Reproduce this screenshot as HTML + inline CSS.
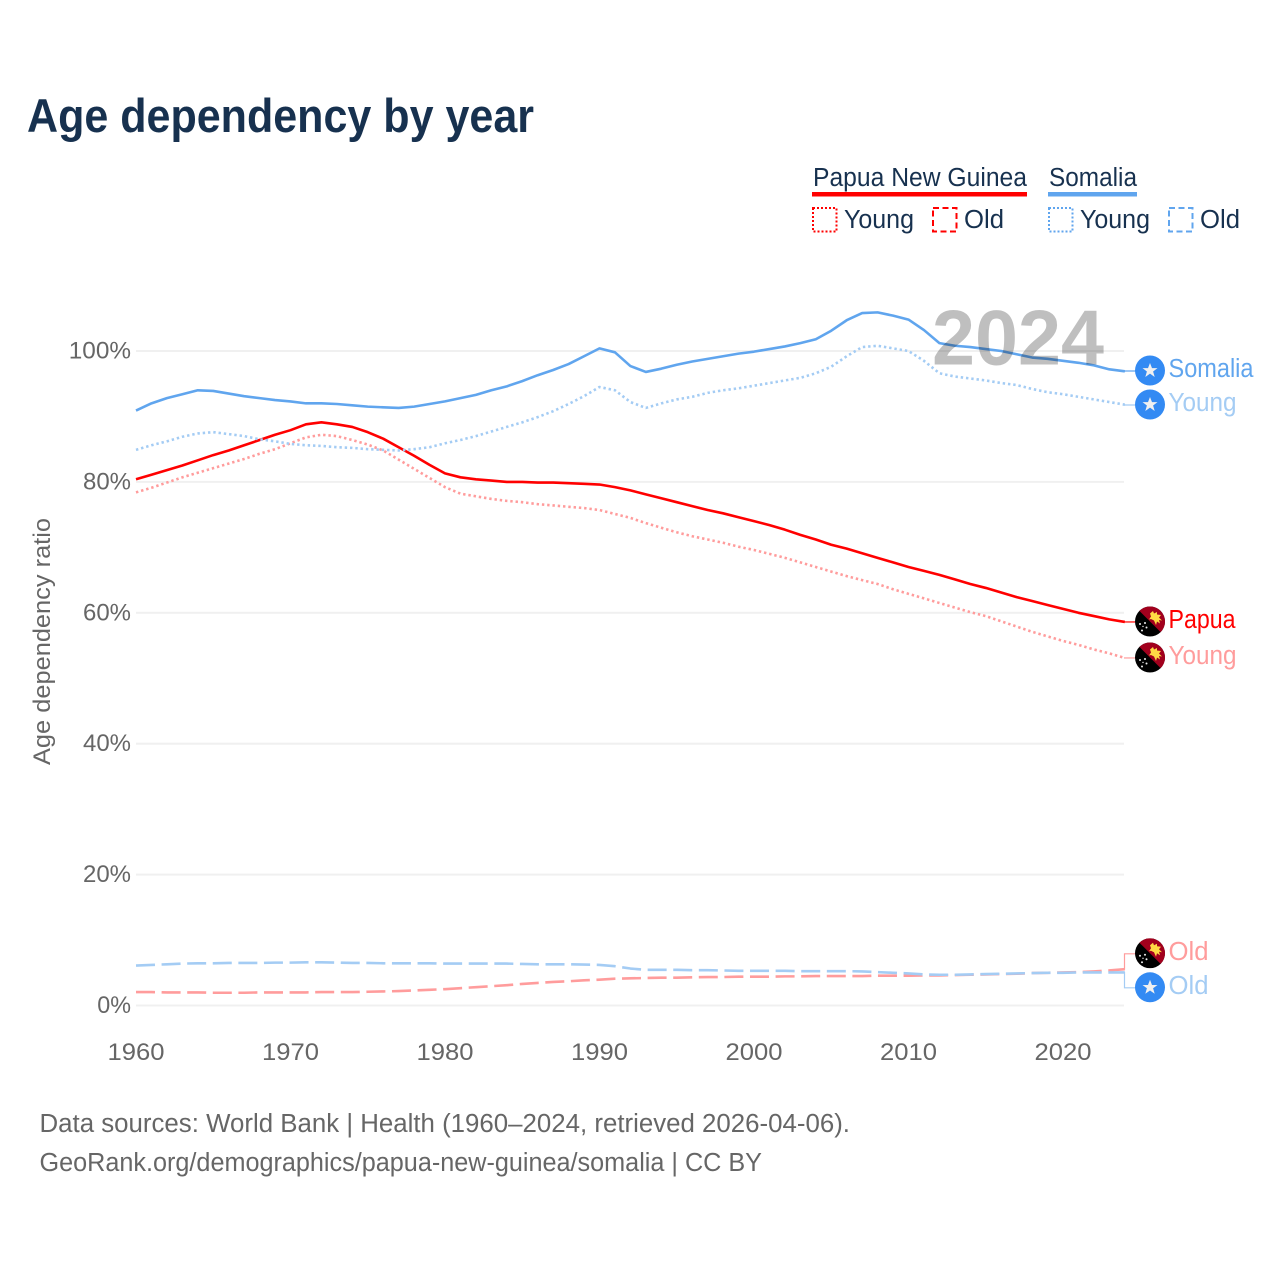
<!DOCTYPE html>
<html lang="en">
<head>
<meta charset="utf-8">
<title>Age dependency by year</title>
<style>
html,body{margin:0;padding:0;background:#fff;}
svg{display:block;font-family:"Liberation Sans",sans-serif;}
</style>
</head>
<body>
<svg id="chart" xmlns="http://www.w3.org/2000/svg" width="1280" height="1280" viewBox="0 0 1280 1280">
<defs>
<clipPath id="flag-clip"><circle cx="0" cy="0" r="15"/></clipPath>
<g id="flag-png">
<g clip-path="url(#flag-clip)">
<rect x="-15" y="-15" width="30" height="30" fill="#000"/>
<path d="M-15 -15H15V15Z" fill="#a2001d"/>
<path d="M0 -8L3 -10.5L4 -8L7 -9.5L7 -7L11 -6.5L9 -4L12 -1L9 -1.5L10 2L7 0L6 3.5L4 -1L1 -2.5L-1 -2L1 -5Z" fill="#ffda44"/>
<g fill="#eee"><circle cx="-10" cy="2.5" r="1"/><circle cx="-5" cy="1.5" r="1"/><circle cx="-3.5" cy="6" r="1"/><circle cx="-8" cy="9" r="1"/><circle cx="-7" cy="5" r="0.7"/></g>
</g>
</g>
<g id="flag-som">
<circle r="15" fill="#338af3"/>
<path d="M0 -7.5L2 -2.3L7.5 -2.3L3.1 1L4.7 6.5L0 3.2L-4.7 6.5L-3.1 1L-7.5 -2.3L-2 -2.3Z" fill="#f0f0f0"/>
</g>
</defs>

<text x="27" y="132" font-size="47" font-weight="700" fill="#17314f" textLength="507" lengthAdjust="spacingAndGlyphs">Age dependency by year</text>

<g font-size="25.5" fill="#17314f">
<g>
<text x="813" y="186" textLength="214" lengthAdjust="spacingAndGlyphs">Papua New Guinea</text>
<rect x="812" y="192" width="215" height="4.5" fill="#ff0000"/>
<rect x="813" y="208" width="23.5" height="23.5" fill="none" stroke="#ff0000" stroke-width="2" stroke-dasharray="2 2"/>
<text x="844" y="228" textLength="70" lengthAdjust="spacingAndGlyphs">Young</text>
<rect x="933" y="208" width="23.5" height="23.5" fill="none" stroke="#ff0000" stroke-width="2" stroke-dasharray="6 3.5"/>
<text x="964" y="228" textLength="40" lengthAdjust="spacingAndGlyphs">Old</text>
</g>
<g>
<text x="1049" y="186" textLength="88" lengthAdjust="spacingAndGlyphs">Somalia</text>
<rect x="1048" y="192" width="89" height="4.5" fill="#60a5ee"/>
<rect x="1049" y="208" width="23.5" height="23.5" fill="none" stroke="#60a5ee" stroke-width="2" stroke-dasharray="2 2"/>
<text x="1080" y="228" textLength="70" lengthAdjust="spacingAndGlyphs">Young</text>
<rect x="1169" y="208" width="23.5" height="23.5" fill="none" stroke="#60a5ee" stroke-width="2" stroke-dasharray="6 3.5"/>
<text x="1200" y="228" textLength="40" lengthAdjust="spacingAndGlyphs">Old</text>
</g>
</g>

<g id="grid"></g>
<g id="y-axis"></g>
<g id="x-axis"></g>
<text transform="translate(50,641.5) rotate(-90)" text-anchor="middle" font-size="24.5" fill="#666" textLength="247" lengthAdjust="spacingAndGlyphs">Age dependency ratio</text>
<g id="series"></g>
<text x="932" y="364.5" font-size="78" font-weight="700" fill="#000" fill-opacity="0.25" textLength="172" lengthAdjust="spacingAndGlyphs">2024</text>
<g id="end-labels"></g>

<g font-size="25.5" fill="#666">
<text x="39.5" y="1132" textLength="810.5" lengthAdjust="spacingAndGlyphs">Data sources: World Bank | Health (1960–2024, retrieved 2026-04-06).</text>
<text x="39.5" y="1171" textLength="722.5" lengthAdjust="spacingAndGlyphs">GeoRank.org/demographics/papua-new-guinea/somalia | CC BY</text>
</g>
</svg>

<script>
const firstYear = 1960;
const xTicks = [1960, 1970, 1980, 1990, 2000, 2010, 2020];
const yTicks = [0, 20, 40, 60, 80, 100];

const pngTotal = [
80.4,81.1,81.8,82.5,83.3,84.1,84.8,85.6,86.4,87.2,
87.9,88.8,89.1,88.8,88.4,87.6,86.6,85.3,84.0,82.6,
81.3,80.7,80.4,80.2,80.0,80.0,79.9,79.9,79.8,79.7,
79.6,79.2,78.7,78.1,77.5,76.9,76.3,75.7,75.2,74.6,
74.0,73.4,72.7,71.9,71.2,70.4,69.8,69.1,68.4,67.7,
67.0,66.4,65.8,65.1,64.4,63.8,63.1,62.4,61.8,61.2,
60.6,60.0,59.5,59.0,58.6];
const pngYoung = [
78.4,79.1,79.9,80.7,81.4,82.1,82.8,83.5,84.3,85.0,
85.9,86.8,87.2,87.0,86.4,85.7,84.8,83.4,82.0,80.6,
79.2,78.2,77.8,77.4,77.1,76.9,76.6,76.4,76.2,76.0,
75.7,75.1,74.5,73.7,73.0,72.3,71.7,71.2,70.7,70.1,
69.6,69.0,68.4,67.7,67.0,66.3,65.6,65.0,64.4,63.6,
62.9,62.2,61.5,60.8,60.1,59.5,58.7,57.9,57.1,56.4,
55.7,55.1,54.4,53.8,53.1];
const pngOld = [
2.05,2.05,2.0,2.0,2.0,1.95,1.95,1.95,2.0,2.0,
2.0,2.0,2.05,2.05,2.05,2.1,2.15,2.2,2.3,2.4,
2.5,2.65,2.8,2.95,3.1,3.3,3.45,3.6,3.7,3.85,
3.95,4.1,4.15,4.2,4.25,4.25,4.3,4.35,4.35,4.4,
4.4,4.4,4.45,4.45,4.5,4.5,4.5,4.5,4.55,4.55,
4.55,4.6,4.6,4.65,4.7,4.75,4.8,4.85,4.95,5.0,
5.05,5.1,5.2,5.35,5.55];
const somaliaTotal = [
90.9,92.0,92.8,93.4,94.0,93.9,93.5,93.1,92.8,92.5,
92.3,92.0,92.0,91.9,91.7,91.5,91.4,91.3,91.5,91.9,
92.3,92.8,93.3,94.0,94.6,95.4,96.3,97.1,98.0,99.2,
100.4,99.8,97.7,96.8,97.3,97.9,98.4,98.8,99.2,99.6,
99.9,100.3,100.7,101.2,101.8,103.1,104.7,105.8,105.9,105.4,
104.8,103.2,101.2,100.8,100.6,100.3,100.0,99.5,99.0,98.8,
98.5,98.2,97.8,97.2,96.9];
const somaliaYoung = [
84.9,85.6,86.2,86.9,87.4,87.6,87.3,87.0,86.5,86.2,
85.8,85.6,85.5,85.3,85.2,85.0,84.9,84.8,85.0,85.3,
85.9,86.4,87.0,87.7,88.4,89.1,89.9,90.8,91.9,93.1,
94.5,94.0,92.2,91.3,92.0,92.6,93.0,93.6,94.0,94.3,
94.7,95.1,95.5,95.9,96.6,97.6,99.2,100.6,100.8,100.4,
100.0,98.5,96.6,96.1,95.8,95.5,95.1,94.8,94.2,93.7,
93.4,93.0,92.6,92.2,91.8];
const somaliaOld = [
6.1,6.2,6.3,6.4,6.45,6.45,6.5,6.5,6.5,6.55,
6.55,6.6,6.6,6.55,6.5,6.5,6.45,6.45,6.45,6.45,
6.4,6.4,6.4,6.4,6.4,6.35,6.3,6.3,6.3,6.25,
6.2,6.0,5.65,5.45,5.45,5.45,5.4,5.4,5.35,5.3,
5.3,5.3,5.3,5.25,5.25,5.25,5.25,5.2,5.1,5.0,
4.9,4.75,4.7,4.7,4.75,4.8,4.85,4.9,4.95,5.0,
5.0,5.05,5.05,5.05,5.05];

const SVG_NS = 'http://www.w3.org/2000/svg';
const xScale = year => 136 + (year - firstYear) * 15.45;
const yScale = value => 1005.5 - value * 6.545;
const dotted = '2.4 2.9';
const dashed = '19 6.6';

function make(tag, parent, attrs) {
  const node = document.createElementNS(SVG_NS, tag);
  for (const key in attrs) node.setAttribute(key, attrs[key]);
  parent.appendChild(node);
  return node;
}

const gridLayer = document.getElementById('grid');
const yAxisLayer = document.getElementById('y-axis');
const xAxisLayer = document.getElementById('x-axis');
const seriesLayer = document.getElementById('series');
const labelLayer = document.getElementById('end-labels');

yTicks.forEach(tick => {
  const line = make('rect', gridLayer, {x: 136, y: yScale(tick) - 1, width: 988, height: 2, fill: '#f0f0f0'});
  
  
  const label = make('text', yAxisLayer, {
    x: 131, y: yScale(tick) + 7.5, 'text-anchor': 'end', 'font-size': 24.5, fill: '#666',
    textLength: String(tick).length * 14.25 + 19.5, lengthAdjust: 'spacingAndGlyphs'
  });
  label.textContent = tick + '%';
  
  
});

xTicks.forEach(tick => {
  const label = make('text', xAxisLayer, {
    x: xScale(tick), y: 1060, 'text-anchor': 'middle', 'font-size': 24.5, fill: '#666',
    textLength: 57, lengthAdjust: 'spacingAndGlyphs'
  });
  label.textContent = tick;
  
  
});

const seriesList = [
  {id: 'png-old', values: pngOld, color: '#ff9c9c', dash: dashed, label: 'Old', flag: 'flag-png', width: 40},
  {id: 'png-young', values: pngYoung, color: '#ff9c9c', dash: dotted, label: 'Young', flag: 'flag-png', width: 68},
  {id: 'png-total', values: pngTotal, color: '#ff0000', dash: '', label: 'Papua', flag: 'flag-png', width: 67},
  {id: 'somalia-old', values: somaliaOld, color: '#a4ccf4', dash: dashed, label: 'Old', flag: 'flag-som', width: 40},
  {id: 'somalia-young', values: somaliaYoung, color: '#a4ccf4', dash: dotted, label: 'Young', flag: 'flag-som', width: 68},
  {id: 'somalia-total', values: somaliaTotal, color: '#60a5ee', dash: '', label: 'Somalia', flag: 'flag-som', width: 85}
];

seriesList.forEach(series => {
  const points = series.values.map((value, i) => xScale(firstYear + i).toFixed(2) + ',' + yScale(value).toFixed(2));
  const path = make('polyline', seriesLayer, {
    points: points.join(' '), fill: 'none', stroke: series.color, 'stroke-width': 2.6,
    'stroke-linejoin': 'round'
  });
  if (series.dash) path.setAttribute('stroke-dasharray', series.dash);
  
  
});

/* Spread end labels so neighbouring flags never overlap. */
const minGap = 34;
const placed = seriesList.map(series => {
  const endY = yScale(series.values[series.values.length - 1]);
  return {series, endY, labelY: endY};
}).sort((a, b) => a.endY - b.endY);
for (let i = 1; i < placed.length; i++) {
  const gap = placed[i].labelY - placed[i - 1].labelY;
  if (gap < minGap) {
    const shift = (minGap - gap) / 2;
    placed[i - 1].labelY -= shift;
    placed[i].labelY += shift;
  }
}

placed.forEach(item => {
  const {series, endY, labelY} = item;
  const group = make('g', labelLayer, {});
  
  
  const connector = make('path', group, {
    d: 'M1124 ' + endY + 'H1124.5V' + labelY + 'H1136', fill: 'none', stroke: series.color, 'stroke-width': 1.2
  });
  
  
  const flag = make('use', group, {href: '#' + series.flag, transform: 'translate(1150,' + (labelY - 0.5) + ')'});
  
  
  const text = make('text', group, {
    x: 1168.5, y: labelY + 6, 'font-size': 25.5, fill: series.color,
    textLength: series.width, lengthAdjust: 'spacingAndGlyphs'
  });
  text.textContent = series.label;
  
  
});
</script>
</body>
</html>
